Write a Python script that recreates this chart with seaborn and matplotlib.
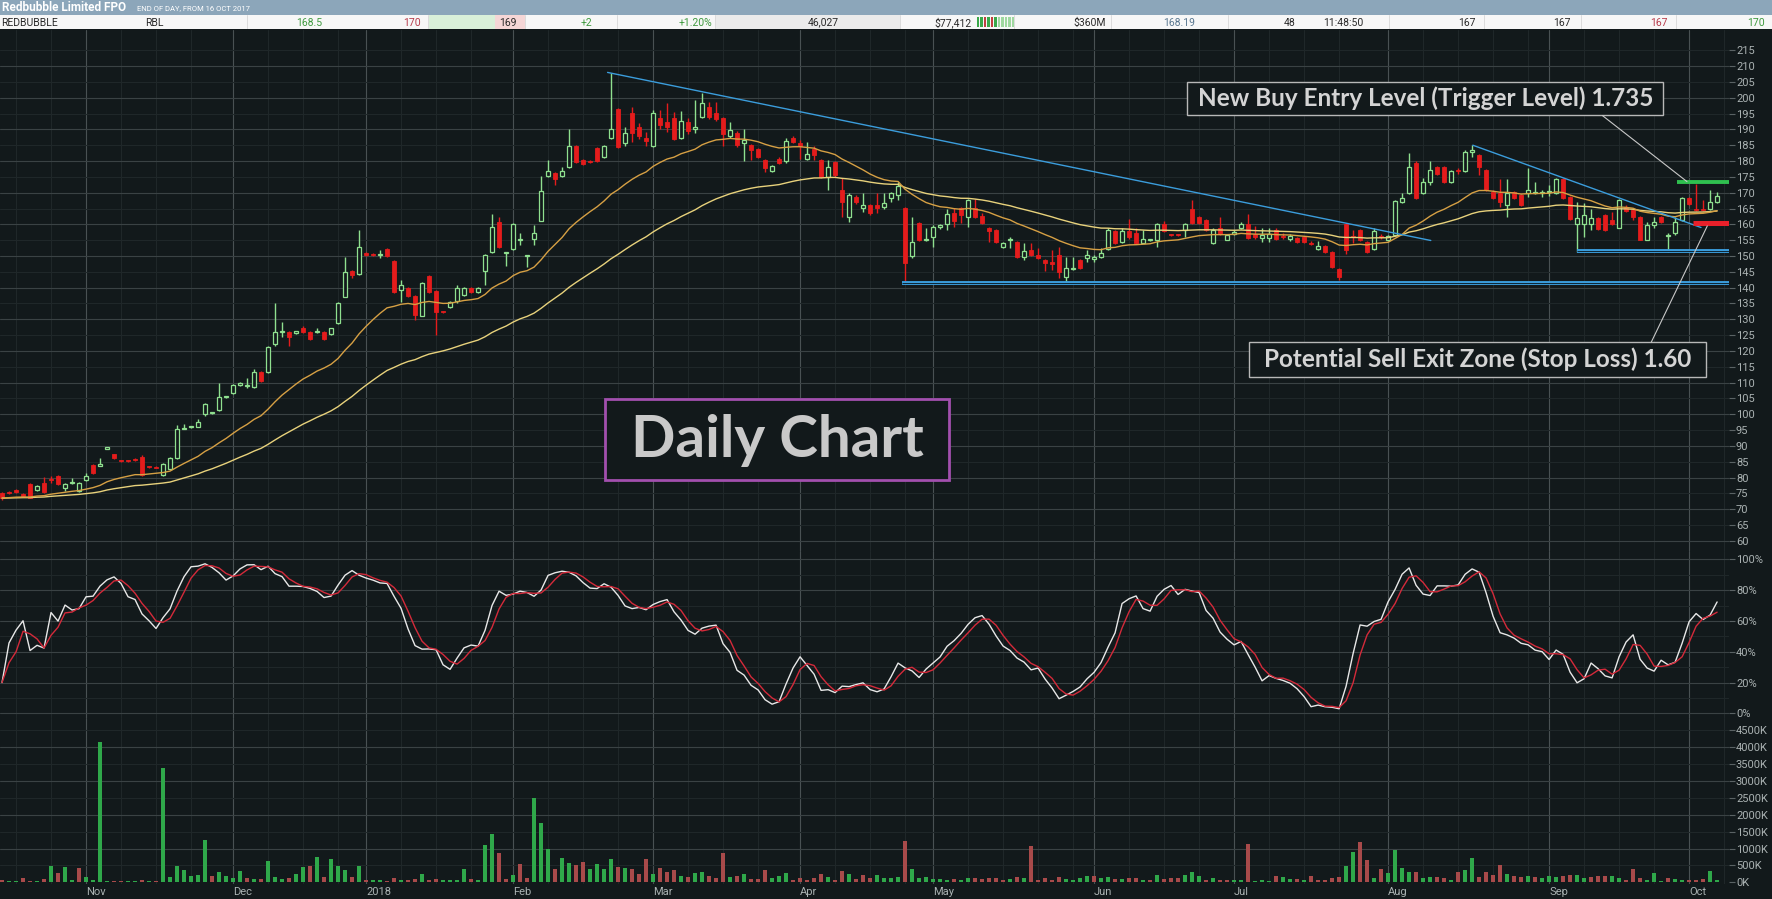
import numpy as np
import pandas as pd
import matplotlib
matplotlib.use("Agg")
import matplotlib.pyplot as plt
from matplotlib.patches import Rectangle
import seaborn as sns

# daily candles (price in cents)
opens = [75.1, 75.5, 76.1, 74.7, 77.9, 76.1, 78.2, 79.5, 80.5, 76.6,
         78.2, 75.9, 79.3, 84.0, 83.8, 89.0, 87.4, 85.4, 85.4, 85.6,
         86.6, 83.4, 83.4, 80.8, 82.7, 86.3, 95.4, 95.9, 96.1, 100.1,
         100.4, 101.2, 105.3, 106.6, 109.3, 108.8, 108.7, 113.3, 113.3, 122.1,
         125.9, 126.1, 125.8, 127.4, 126.1, 125.9, 126.1, 125.2, 128.7, 137.2,
         145.3, 144.2, 151.1, 150.6, 150.4, 152.1, 148.5, 139.3, 139.8, 137.4,
         131.2, 143.7, 138.9, 132.4, 133.8, 135.9, 137.7, 140.0, 138.7, 145.3,
         151.2, 160.6, 150.9, 152.1, 154.9, 150.0, 155.3, 161.2, 175.4, 176.3,
         175.4, 178.0, 184.8, 180.3, 179.9, 184.0, 181.4, 187.2, 196.3, 185.6,
         195.1, 190.8, 187.4, 184.7, 193.5, 192.4, 193.5, 187.4, 192.4, 190.0,
         194.0, 197.2, 195.1, 193.5, 187.9, 188.9, 185.6, 185.1, 183.7, 180.3,
         176.9, 180.6, 180.1, 187.2, 185.6, 180.8, 183.7, 180.3, 175.1, 179.8,
         170.8, 162.2, 168.7, 165.1, 166.1, 166.0, 165.6, 168.2, 169.3, 165.1,
         150.0, 160.3, 154.9, 156.1, 159.3, 160.0, 163.5, 165.1, 162.4, 165.1,
         162.6, 158.9, 158.2, 152.9, 154.9, 154.5, 149.8, 151.9, 150.3, 148.7,
         147.9, 150.3, 143.3, 145.9, 148.7, 149.3, 149.2, 149.6, 152.2, 158.0,
         154.5, 158.0, 157.4, 154.2, 155.0, 155.1, 160.0, 156.8, 156.8, 158.2,
         164.7, 162.4, 161.4, 154.2, 159.0, 155.2, 157.0, 158.7, 160.0, 157.1,
         155.6, 155.6, 158.2, 156.2, 155.3, 155.6, 156.1, 154.1, 152.1, 153.1,
         151.4, 145.9, 160.1, 156.2, 158.2, 154.5, 152.1, 156.2, 155.0, 156.6,
         167.1, 169.8, 179.5, 169.8, 173.3, 178.0, 178.0, 173.5, 177.0, 176.9,
         183.0, 181.9, 177.1, 170.3, 169.8, 166.1, 170.3, 169.2, 169.8, 169.8,
         169.9, 170.1, 170.0, 174.2, 168.5, 160.1, 160.1, 160.1, 162.1, 162.9,
         161.4, 159.0, 165.4, 164.5, 162.4, 155.2, 159.8, 162.4, 156.4, 157.2,
         161.4, 168.2, 164.8, 164.7, 164.7, 167.1]
highs = [75.5, 75.8, 76.4, 75.0, 78.2, 77.5, 80.3, 80.5, 80.8, 78.3,
         79.8, 78.5, 81.6, 84.3, 86.1, 89.6, 87.6, 85.6, 85.6, 86.3,
         87.0, 83.6, 83.6, 84.5, 86.6, 96.5, 96.8, 96.4, 98.4, 103.5,
         100.8, 110.0, 105.7, 109.6, 110.3, 111.4, 114.2, 113.6, 121.5, 135.1,
         129.3, 126.3, 126.4, 128.0, 126.4, 127.2, 126.4, 127.4, 135.4, 149.6,
         145.6, 158.2, 151.4, 150.9, 151.9, 152.4, 148.8, 142.4, 140.1, 137.7,
         141.9, 144.0, 139.2, 132.7, 135.9, 140.8, 140.3, 140.3, 140.3, 150.6,
         163.3, 162.4, 151.4, 160.3, 157.2, 150.4, 159.8, 175.3, 180.3, 176.6,
         178.0, 190.0, 185.1, 180.6, 180.2, 184.3, 185.1, 207.7, 196.6, 190.8,
         197.2, 192.0, 189.3, 196.0, 196.0, 198.2, 195.6, 195.9, 193.5, 199.3,
         201.4, 198.7, 198.7, 193.8, 192.4, 189.5, 190.0, 185.4, 184.0, 180.6,
         178.7, 181.4, 187.2, 187.9, 186.6, 186.1, 184.7, 180.6, 180.3, 180.0,
         174.5, 170.0, 169.3, 169.8, 166.4, 170.0, 170.0, 170.3, 173.5, 165.4,
         162.2, 160.6, 158.7, 159.8, 160.2, 164.7, 165.1, 165.6, 167.9, 167.9,
         163.5, 159.2, 158.5, 154.5, 156.0, 154.8, 154.0, 154.0, 152.4, 149.0,
         151.9, 152.9, 149.8, 149.8, 149.0, 151.9, 150.3, 152.4, 158.7, 158.3,
         158.7, 161.6, 158.7, 158.2, 155.5, 160.3, 161.0, 157.1, 157.1, 160.3,
         167.7, 162.7, 161.7, 159.0, 162.4, 156.9, 158.2, 160.8, 163.2, 159.5,
         158.7, 158.9, 159.0, 157.2, 157.1, 155.9, 156.4, 154.6, 154.8, 153.4,
         151.7, 146.2, 160.4, 158.2, 158.5, 154.8, 158.7, 156.8, 156.6, 167.7,
         169.8, 182.4, 180.1, 174.5, 180.1, 178.3, 178.3, 177.2, 177.7, 183.5,
         185.0, 182.2, 177.4, 171.0, 174.2, 174.2, 170.6, 169.5, 177.7, 173.5,
         170.8, 172.5, 174.5, 174.5, 168.8, 167.1, 166.6, 165.0, 162.4, 163.2,
         164.0, 168.0, 166.0, 165.0, 162.7, 160.8, 162.4, 162.7, 157.2, 162.4,
         168.7, 168.5, 172.7, 167.7, 170.8, 170.3]
lows = [73.0, 74.8, 75.0, 74.0, 73.5, 75.8, 75.0, 78.2, 77.8, 75.8,
        77.9, 75.5, 79.0, 81.0, 83.5, 88.9, 86.0, 85.0, 85.0, 85.2,
        80.5, 83.0, 82.9, 80.5, 82.3, 86.0, 95.2, 95.7, 95.9, 99.6,
        100.0, 100.9, 105.0, 106.3, 109.0, 108.2, 108.2, 110.3, 113.0, 121.5,
        124.3, 121.6, 125.5, 125.8, 123.4, 125.6, 123.4, 124.9, 128.4, 136.9,
        143.0, 143.9, 150.0, 150.1, 149.3, 149.8, 138.4, 135.6, 137.2, 129.8,
        130.9, 138.4, 125.1, 131.9, 133.5, 135.0, 137.4, 138.2, 138.4, 140.8,
        150.9, 152.6, 146.9, 151.8, 153.5, 146.6, 153.5, 160.9, 175.1, 172.4,
        175.1, 177.7, 179.3, 178.7, 179.4, 179.8, 181.1, 186.9, 184.2, 184.8,
        186.1, 187.0, 184.7, 184.5, 190.0, 189.3, 186.6, 187.0, 188.7, 189.0,
        193.5, 193.2, 192.5, 184.7, 187.2, 184.5, 180.1, 180.3, 181.1, 176.6,
        176.6, 179.0, 179.3, 185.8, 180.8, 180.3, 180.3, 174.8, 170.8, 175.0,
        162.2, 160.7, 166.5, 164.0, 163.0, 163.5, 165.0, 167.2, 167.7, 141.6,
        149.3, 154.8, 154.6, 153.0, 158.5, 158.2, 159.3, 160.3, 159.3, 162.1,
        160.2, 154.5, 154.2, 152.6, 152.4, 149.5, 148.7, 150.0, 149.0, 145.4,
        145.6, 142.9, 141.6, 145.6, 145.8, 148.2, 148.2, 149.3, 151.9, 153.9,
        154.2, 155.5, 153.9, 154.0, 154.6, 153.0, 157.7, 156.3, 156.2, 156.0,
        160.0, 160.0, 157.9, 153.8, 156.6, 154.9, 156.6, 158.4, 155.3, 155.4,
        154.5, 154.5, 155.0, 155.4, 154.7, 154.2, 154.2, 153.5, 151.8, 151.1,
        146.3, 142.4, 150.6, 154.0, 154.8, 150.8, 151.8, 155.4, 154.7, 156.3,
        166.8, 169.5, 168.1, 169.5, 172.4, 175.6, 173.2, 173.2, 175.9, 176.6,
        181.4, 175.6, 170.5, 167.9, 165.6, 162.2, 167.9, 165.8, 168.7, 169.5,
        168.5, 168.9, 169.7, 167.9, 161.3, 151.4, 156.1, 158.2, 158.1, 157.9,
        159.8, 158.7, 164.0, 161.4, 154.9, 154.9, 158.7, 160.5, 151.4, 156.6,
        161.1, 166.1, 164.2, 164.1, 164.4, 166.8]
closes = [73.5, 75.0, 75.4, 74.3, 73.7, 77.2, 75.4, 79.2, 78.0, 78.0,
          78.7, 78.2, 80.5, 81.4, 84.3, 89.5, 86.3, 85.2, 85.2, 85.4,
          80.8, 83.2, 83.1, 84.2, 86.3, 95.3, 95.6, 96.1, 97.4, 103.2,
          100.6, 105.4, 105.5, 109.3, 110.0, 109.1, 113.5, 110.6, 121.2, 126.1,
          126.1, 124.5, 126.1, 126.1, 123.7, 126.2, 123.7, 127.1, 135.1, 144.8,
          144.0, 153.0, 150.3, 150.4, 150.6, 150.1, 138.7, 140.8, 137.5, 131.4,
          141.6, 138.7, 132.2, 132.2, 135.6, 139.8, 140.0, 138.5, 140.0, 150.3,
          159.1, 152.9, 151.1, 160.0, 155.1, 150.1, 157.2, 170.6, 177.0, 174.3,
          176.8, 184.8, 179.6, 179.0, 179.7, 180.1, 184.8, 190.0, 184.5, 189.0,
          188.9, 187.9, 186.3, 195.1, 191.4, 190.8, 186.9, 192.6, 189.6, 190.8,
          198.4, 194.0, 193.2, 188.7, 189.8, 185.1, 186.6, 183.5, 181.4, 177.7,
          178.4, 179.3, 186.3, 186.1, 184.7, 182.1, 181.9, 175.1, 178.0, 175.6,
          167.2, 169.3, 167.2, 166.1, 163.5, 165.2, 166.8, 169.8, 172.1, 147.7,
          154.3, 155.1, 155.3, 159.3, 159.8, 163.3, 161.2, 162.9, 167.7, 162.4,
          160.5, 157.9, 154.5, 154.2, 155.1, 149.8, 151.7, 150.3, 149.3, 147.7,
          147.6, 145.0, 146.1, 146.1, 146.1, 150.3, 149.4, 151.1, 158.2, 154.2,
          158.0, 156.1, 154.2, 155.3, 155.1, 160.0, 158.0, 156.6, 156.5, 160.0,
          160.3, 160.3, 158.2, 158.2, 156.9, 156.6, 157.7, 160.0, 155.6, 156.1,
          156.6, 157.1, 155.3, 156.0, 156.3, 154.5, 154.5, 153.9, 153.1, 151.4,
          146.6, 143.5, 151.9, 156.0, 155.1, 151.4, 157.9, 156.0, 156.3, 167.4,
          168.4, 178.2, 168.4, 173.5, 177.1, 175.9, 173.5, 176.9, 176.8, 182.9,
          183.6, 178.0, 170.8, 168.2, 167.1, 169.8, 168.2, 166.1, 171.0, 170.0,
          170.1, 170.4, 174.2, 168.2, 161.6, 162.1, 162.9, 162.1, 158.4, 158.2,
          160.0, 167.7, 164.3, 162.4, 155.2, 159.8, 160.8, 160.8, 156.7, 160.8,
          168.2, 166.4, 164.5, 164.4, 167.1, 168.9]
# volume in thousands of shares
volumes_k = [69, 40, 40, 128, 40, 40, 99, 493, 276, 463,
             69, 433, 167, 59, 4147, 30, 30, 30, 30, 30,
             69, 30, 30, 3379, 167, 493, 364, 197, 227, 1251,
             197, 305, 187, 128, 335, 128, 99, 99, 630, 167,
             99, 128, 246, 463, 493, 749, 167, 690, 493, 364,
             167, 493, 59, 59, 59, 30, 128, 59, 59, 99,
             246, 59, 99, 59, 59, 59, 394, 99, 59, 1103,
             1428, 877, 99, 217, 542, 128, 2502, 1753, 995, 394,
             719, 571, 512, 601, 394, 542, 394, 690, 463, 424,
             394, 246, 690, 246, 424, 305, 364, 187, 158, 276,
             305, 187, 128, 867, 158, 187, 246, 99, 99, 364,
             128, 187, 276, 59, 128, 59, 128, 246, 158, 59,
             335, 246, 99, 217, 128, 217, 128, 128, 158, 1221,
             394, 128, 158, 99, 99, 69, 99, 69, 128, 128,
             99, 128, 128, 69, 99, 158, 128, 1084, 69, 128,
             69, 158, 99, 69, 128, 187, 187, 128, 158, 99,
             99, 128, 128, 69, 69, 217, 99, 128, 128, 217,
             305, 187, 69, 128, 69, 69, 69, 69, 1133, 40,
             69, 40, 187, 158, 99, 99, 69, 187, 69, 69,
             128, 158, 493, 896, 1192, 660, 128, 394, 276, 955,
             424, 305, 305, 128, 158, 158, 128, 69, 305, 364,
             719, 158, 305, 217, 512, 246, 187, 158, 187, 158,
             128, 187, 158, 187, 217, 217, 128, 158, 187, 187,
             187, 128, 69, 394, 128, 69, 276, 30, 128, 99,
             69, 69, 69, 99, 335, 69]

month_pos = [12, 33, 52, 73, 93, 114, 133, 156, 176, 198, 221, 241]
month_labels = ["Nov", "Dec", "2018", "Feb", "Mar", "Apr", "May", "Jun",
                "Jul", "Aug", "Sep", "Oct"]
price_ticks = list(range(60, 220, 5))

# drawn levels: (x0, y0, x1, y1) in bar index / price
trend_1 = (86.5, 208.0, 204.1, 154.9)
trend_2 = (210.1, 185.0, 242.7, 159.0)
support_1 = (128.6, 141.4)
support_2 = (225.0, 151.6)
buy_level = (239.3, 173.5)
stop_level = (241.6, 160.3)

BG = "#12191b"
GRID_MAJ = "#3a4244"
GRID_MIN = "#1f2729"
VGRID = "#495153"
UP = "#8fe08f"
DOWN = "#e41c1c"
TXT = "#aab2b2"

df = pd.DataFrame({"open": opens, "high": highs, "low": lows,
                   "close": closes, "vol": volumes_k})
df["x"] = np.arange(len(df))
df["ema20"] = df["close"].ewm(span=20, adjust=False).mean()
df["ema50"] = df["close"].ewm(span=50, adjust=False).mean()
ll = df["low"].rolling(20, min_periods=1).min()
hh = df["high"].rolling(20, min_periods=1).max()
fast_k = 100 * (df["close"] - ll) / (hh - ll)
df["k"] = fast_k.rolling(3, min_periods=1).mean()
df["d"] = df["k"].rolling(3, min_periods=1).mean()

sns.set_style("dark")
plt.rcParams["font.family"] = ["Roboto", "DejaVu Sans"]

W, H = 1772, 899
fig = plt.figure(figsize=(W / 100, H / 100), dpi=100, facecolor=BG)
right = 1729 / W
ax_p = fig.add_axes([0, 1 - 551 / H, right, (551 - 30) / H])
ax_s = fig.add_axes([0, 1 - 718 / H, right, (718 - 551) / H])
ax_v = fig.add_axes([0, 1 - 884 / H, right, (884 - 718) / H])

xlim = (-0.29, 246.7)

# weekly faint vertical lines between month lines
starts = [2] + month_pos
week_pos = [2]
for a, b in zip(starts, starts[1:] + [250]):
    p = a + 5
    while p < b - 2:
        week_pos.append(p)
        p += 5

for ax in (ax_p, ax_s, ax_v):
    ax.set_facecolor(BG)
    for s in ax.spines.values():
        s.set_visible(False)
    ax.set_xlim(*xlim)
    ax.grid(False)
    for p in week_pos:
        ax.axvline(p, color=GRID_MIN, lw=0.8, zorder=0)
    for p in month_pos:
        ax.axvline(p, color=VGRID, lw=0.8, zorder=0)
    ax.yaxis.tick_right()
    ax.tick_params(axis="y", colors="#5a6264", labelcolor=TXT, length=4,
                   width=0.8, pad=1, labelsize=8)
    ax.tick_params(axis="x", length=0)

# ---- price panel
ax_p.set_ylim(56.8, 221.4)
for v in price_ticks:
    ax_p.axhline(v, color=GRID_MAJ if v % 10 == 0 else GRID_MIN, lw=0.8, zorder=0)
ax_p.set_yticks(price_ticks)
ax_p.set_yticklabels([str(v) for v in price_ticks])
ax_p.set_xticks([])

up = df["close"] >= df["open"]
body_lo = np.minimum(df["open"], df["close"])
body_h = np.maximum((df["close"] - df["open"]).abs(), 0.35)
ax_p.vlines(df["x"][up], df["low"][up], df["high"][up], color=UP, lw=1, zorder=2)
ax_p.vlines(df["x"][~up], df["low"][~up], df["high"][~up], color=DOWN, lw=1, zorder=2)
ax_p.bar(df["x"][up], body_h[up], bottom=body_lo[up], width=0.62,
         facecolor=BG, edgecolor=UP, linewidth=0.9, zorder=3)
ax_p.bar(df["x"][~up], body_h[~up], bottom=body_lo[~up], width=0.62,
         facecolor=DOWN, edgecolor=DOWN, linewidth=0.6, zorder=3)

sns.lineplot(data=df, x="x", y="ema50", ax=ax_p, color="#e8d27c", lw=1,
             legend=False, zorder=4)
sns.lineplot(data=df, x="x", y="ema20", ax=ax_p, color="#d6a044", lw=1,
             legend=False, zorder=4)

TREND = "#3b9ddc"
for x0, y0, x1, y1 in (trend_1, trend_2):
    ax_p.plot([x0, x1], [y0, y1], color=TREND, lw=1, zorder=5)
for x0, y in (support_1, support_2):
    ax_p.hlines(y, x0, xlim[1], color=TREND, lw=2.8, zorder=5)
    ax_p.hlines(y, x0, xlim[1], color="#0d2634", lw=0.7, zorder=6)
ax_p.hlines(buy_level[1], buy_level[0], xlim[1], color="#2fbf4f", lw=2.8, zorder=6)
ax_p.hlines(stop_level[1], stop_level[0], xlim[1], color="#e8202a", lw=3.6, zorder=6)

# annotation boxes
NOTE = "#d4d4d4"
ax_p.add_patch(Rectangle((169.3, 194.4), 68.0, 10.7, facecolor=BG,
                         edgecolor="#b8b8b8", lw=1, zorder=7))
ax_p.text(203.3, 199.75, "New Buy Entry Level (Trigger Level) 1.735",
          ha="center", va="center", color=NOTE, fontsize=17.5,
          family=["Lato", "DejaVu Sans"], weight="bold", zorder=8)
ax_p.plot([228.6, 240.7], [194.4, 173.5], color="#c8c8c8", lw=0.8, zorder=7)

ax_p.add_patch(Rectangle((178.1, 111.8), 65.3, 11.0, facecolor=BG,
                         edgecolor="#b8b8b8", lw=1, zorder=7))
ax_p.text(210.8, 117.3, "Potential Sell Exit Zone (Stop Loss) 1.60",
          ha="center", va="center", color=NOTE, fontsize=17.5,
          family=["Lato", "DejaVu Sans"], weight="bold", zorder=8)
ax_p.plot([235.6, 243.6], [122.8, 159.5], color="#c8c8c8", lw=0.8, zorder=7)

ax_p.add_patch(Rectangle((86.2, 79.1), 49.1, 25.75, facecolor=BG,
                         edgecolor="#a24fae", lw=2, zorder=7))
ax_p.text(110.8, 91.8, "Daily Chart", ha="center", va="center",
          color="#c9c9c9", fontsize=42, family=["Lato", "DejaVu Sans"],
          weight="bold", zorder=8)

# ---- stochastic panel
ax_s.set_ylim(-3.05, 105.4)
for v in range(0, 101, 10):
    ax_s.axhline(v, color=GRID_MAJ if v % 20 == 0 else GRID_MIN, lw=0.8, zorder=0)
ax_s.set_yticks(list(range(0, 101, 20)))
ax_s.set_yticklabels([f"{v}%" for v in range(0, 101, 20)])
ax_s.set_xticks([])
sns.lineplot(data=df, x="x", y="k", ax=ax_s, color="#e8e8e8", lw=1, legend=False)
sns.lineplot(data=df, x="x", y="d", ax=ax_s, color="#d42a3a", lw=1, legend=False)

# ---- volume panel
ax_v.set_ylim(-50, 4868)
for v in range(500, 4501, 500):
    ax_v.axhline(v, color=GRID_MAJ if v % 1000 == 0 else GRID_MIN, lw=0.8, zorder=0)
vol_up = df["close"].diff() >= 0
vol_up.iloc[0] = False
ax_v.bar(df["x"], df["vol"], width=0.64, linewidth=0, edgecolor="none",
         color=np.where(vol_up, "#2fa84a", "#a84a4a"), zorder=2)
vt = list(range(0, 4501, 500))
ax_v.set_yticks(vt)
ax_v.set_yticklabels([f"{v}K" for v in vt])
ax_v.set_xticks(month_pos)
ax_v.set_xticklabels(month_labels)
ax_v.tick_params(axis="x", labelcolor=TXT, labelsize=8, pad=2)
for lab in ax_v.get_xticklabels():
    lab.set_horizontalalignment("left")

for ax in (ax_p, ax_s, ax_v):
    ax.set_xlabel("")
    ax.set_ylabel("")

# ---- header strip
hx = fig.add_axes([0, 1 - 29 / H, 1, 29 / H])
hx.set_xlim(0, W)
hx.set_ylim(29, 0)
hx.axis("off")
hx.add_patch(Rectangle((0, 0), W, 15, facecolor="#8ca6ba", edgecolor="none"))
hx.add_patch(Rectangle((0, 15), W, 14, facecolor="#f7f7f7", edgecolor="none"))
hx.add_patch(Rectangle((429, 15), 66, 14, facecolor="#d9f0d9", edgecolor="none"))
hx.add_patch(Rectangle((495, 15), 30, 14, facecolor="#f5d6d6", edgecolor="none"))
hx.add_patch(Rectangle((715, 15), 185, 14, facecolor="#ebebeb", edgecolor="none"))
for sx in (247, 428, 525, 617, 715, 900, 1014, 1111, 1228, 1389, 1484, 1581, 1676):
    hx.plot([sx, sx], [15, 29], color="#dcdcdc", lw=0.7)
spark = ["#3aa84a", "#3aa84a", "#c04040", "#3aa84a", "#c04040", "#3aa84a",
         "#9fd89f", "#9fd89f", "#9fd89f", "#9fd89f", "#9fd89f"]
for i, c in enumerate(spark):
    hx.add_patch(Rectangle((977 + i * 3.5, 17), 2.2, 10, facecolor=c, edgecolor="none"))
hx.text(2, 7.5, "Redbubble Limited FPO", color="white", fontsize=8.5,
        weight="bold", va="center", ha="left")
hx.text(137, 8, "END OF DAY, FROM 16 OCT 2017", color="white", fontsize=5.5,
        va="center", ha="left")
DARK, GR, RD = "#2a2a2a", "#3f9a3f", "#b83c4c"
cells = [(1, "REDBUBBLE", DARK, "left"), (145, "RBL", DARK, "left"),
         (322, "168.5", GR, "right"), (421, "170", RD, "right"),
         (517, "169", DARK, "right"), (592, "+2", GR, "right"),
         (712, "+1.20%", GR, "right"), (839, "46,027", DARK, "right"),
         (972, "$77,412", DARK, "right"), (1106, "$360M", DARK, "right"),
         (1195, "168.19", "#5a7890", "right"), (1296, "48", DARK, "right"),
         (1363, "11:48:50", DARK, "right"), (1476, "167", DARK, "right"),
         (1571, "167", DARK, "right"), (1668, "167", RD, "right"),
         (1765, "170", GR, "right")]
for cx, t, c, ha in cells:
    hx.text(cx, 22.5, t, color=c, fontsize=7.5, va="center", ha=ha)

fig.savefig("out.png", dpi=100, facecolor=BG)
